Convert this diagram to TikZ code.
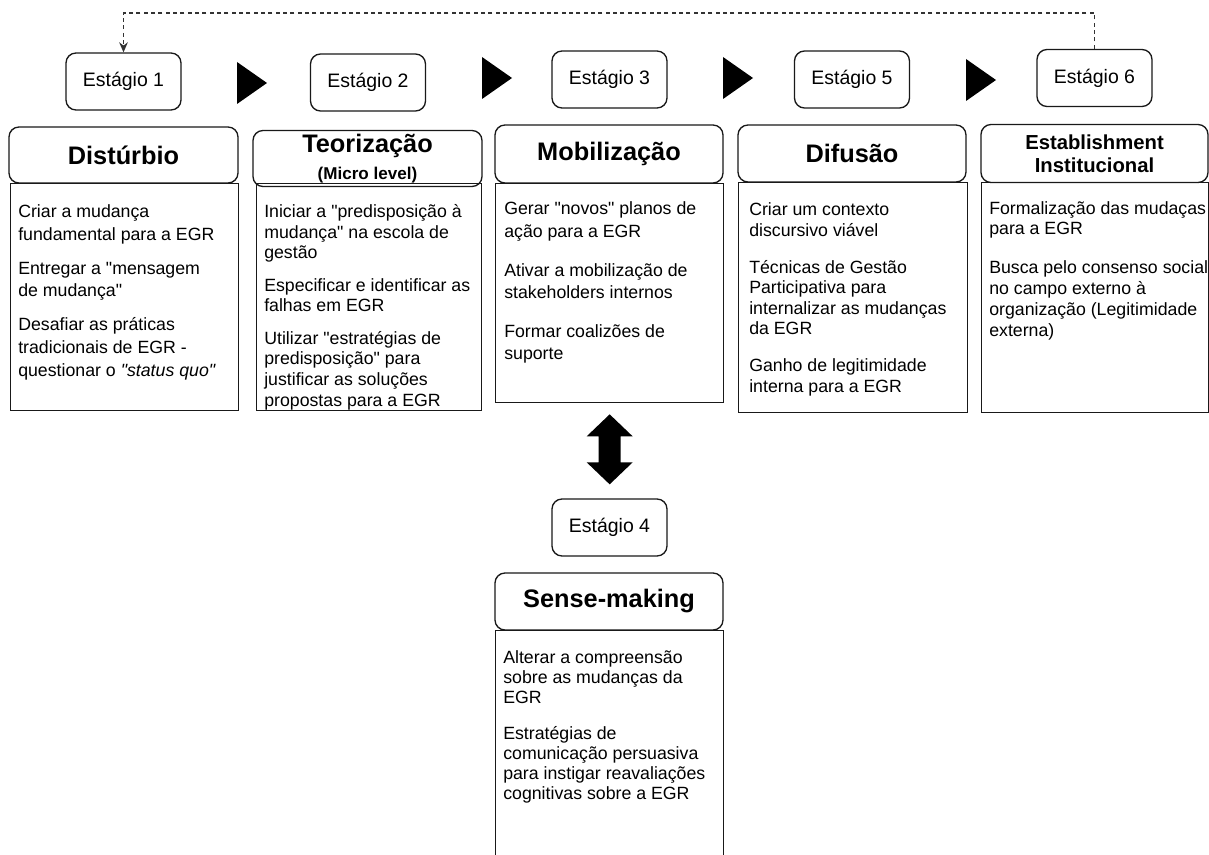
\documentclass[tikz,border=0pt]{standalone}
\usepackage{fontspec}
\setmainfont{Liberation Sans}
\usetikzlibrary{arrows.meta,calc}
\newcommand{\qq}{\textquotedbl}
\begin{document}
\begin{tikzpicture}[x=0.75pt,y=-0.75pt,
  stagebox/.style={draw=black!90, line width=1pt, rounded corners=7.5pt, fill=white,
    minimum width=115*0.75pt, minimum height=57*0.75pt, inner sep=0pt,
    font=\fontsize{14.6}{17}\selectfont},
  titlebox/.style={draw=black!90, line width=1pt, rounded corners=7.5pt, inner sep=0pt,
    align=center, font=\fontsize{19}{19}\selectfont\bfseries},
  bodybox/.style={draw=black!90, line width=1pt, inner sep=0pt, anchor=north west},
  bodytxt/.style={anchor=base west, align=left, inner sep=0pt,
    font=\fontsize{13.3}{#1}\selectfont},
  flowtri/.style={fill=black},
  feedback/.style={draw=black!80, line width=0.9pt, dash pattern=on 3pt off 2.5pt,
    -{Stealth[length=7.5pt,width=6.5pt]}},
]
\useasboundingbox (0,0) rectangle (1209,855);
\clip (0,0) rectangle (1209,855);

% body boxes
\node[bodybox, minimum width=228*0.75pt, minimum height=227*0.75pt] (b1) at (10,183) {};
\node[bodybox, minimum width=225*0.75pt, minimum height=227*0.75pt] (b2) at (256,183) {};
\node[bodybox, minimum width=228*0.75pt, minimum height=219*0.75pt] (b3) at (495,183) {};
\node[bodybox, minimum width=229*0.75pt, minimum height=230*0.75pt] (b5) at (738,182) {};
\node[bodybox, minimum width=227*0.75pt, minimum height=230*0.75pt] (b6) at (981,182) {};
\node[bodybox, minimum width=228*0.75pt, minimum height=240*0.75pt] (b4) at (495,630) {};

% title boxes
\node[titlebox, minimum width=229*0.75pt, minimum height=56*0.75pt] (h1) at (123.5,155) {Distúrbio};
\node[titlebox, minimum width=229*0.75pt, minimum height=56*0.75pt,
  font=\fontsize{19}{20.5}\selectfont\bfseries] (h2) at (367.5,158.5)
  {Teorização\\{\fontsize{12.8}{14}\selectfont(Micro level)}};
\node[titlebox, minimum width=228*0.75pt, minimum height=58*0.75pt] (h3) at (609,154) {Mobilização};
\node[titlebox, minimum width=228*0.75pt, minimum height=57*0.75pt] (h5) at (852,153.5) {Difusão};
\node[titlebox, minimum width=227*0.75pt, minimum height=58*0.75pt,
  font=\fontsize{15.2}{17.25}\selectfont\bfseries] (h6) at (1094.5,153.5) {Establishment\\Institucional};
\node[titlebox, minimum width=228*0.75pt, minimum height=57*0.75pt] (h4) at (609,601.5) {Sense-making};

% stage boxes
\node[stagebox] (s1) at (123.5,81.5) {Estágio 1};
\node[stagebox] (s2) at (368,82.5) {Estágio 2};
\node[stagebox] (s3) at (609.5,79.5) {Estágio 3};
\node[stagebox] (s5) at (852,79.5) {Estágio 5};
\node[stagebox] (s6) at (1094.5,78) {Estágio 6};
\node[stagebox] (s4) at (609.5,527.5) {Estágio 4};

% flow triangles
\fill[flowtri] (237,62) -- (267,83) -- (237,104) -- cycle;
\fill[flowtri] (482,57) -- (512,78) -- (482,99) -- cycle;
\fill[flowtri] (723,57) -- (753,78) -- (723,99) -- cycle;
\fill[flowtri] (966,59) -- (996,80) -- (966,101) -- cycle;

% double arrow between Mobilizacao and Estagio 4
\coordinate (da) at ($(b3.south)+(0,11)$);
\begin{scope}[shift={(da)}]
\fill (0,0) -- (23,22) -- (11,22) -- (11,48) -- (23,48) -- (0,70) -- (-23,48) -- (-11,48) -- (-11,22) -- (-23,22) -- cycle;
\end{scope}

% feedback dashed connector
\coordinate (topline) at (0,13);
\draw[feedback] (s6.north) -- (s6.north |- topline) -| (s1.north);

% body texts (anchored at the baseline of the last line)
\node[bodytxt=16.9pt] (x1) at ($(b1.north west)+(8,193)$)
  {Criar a mudança\\fundamental para a EGR\\[8.6pt]Entregar a \qq mensagem\\de mudança\qq\\[8.6pt]Desafiar as práticas\\tradicionais de EGR -\\questionar o \textit{\qq status quo\qq}};
\node[bodytxt=15.4pt] (x2) at ($(b2.north west)+(8,223)$)
  {Iniciar a \qq predisposição à\\mudança\qq{} na escola de\\gestão\\[9pt]Especificar e identificar as\\falhas em EGR\\[9pt]Utilizar \qq estratégias de\\predisposição\qq{} para\\justificar as soluções\\propostas para a EGR};
\node[bodytxt=16.5pt] (x3) at ($(b3.north west)+(9,176)$)
  {Gerar \qq novos\qq{} planos de\\ação para a EGR\\[12.75pt]Ativar a mobilização de\\stakeholders internos\\[12.75pt]Formar coalizões de\\suporte};
\node[bodytxt=15.4pt] (x5) at ($(b5.north west)+(11,210.5)$)
  {Criar um contexto\\discursivo viável\\[12.4pt]Técnicas de Gestão\\Participativa para\\internalizar as mudanças\\da EGR\\[12.4pt]Ganho de legitimidade\\interna para a EGR};
\node[bodytxt=15.75pt] (x6) at ($(b6.north west)+(8,154)$)
  {Formalização das mudaças\\para a EGR\\[12.75pt]Busca pelo consenso social\\no campo externo à\\organização (Legitimidade\\externa)};
\node[bodytxt=15pt] (x4) at ($(b4.north west)+(8,169)$)
  {Alterar a compreensão\\sobre as mudanças da\\EGR\\[12pt]Estratégias de\\comunicação persuasiva\\para instigar reavaliações\\cognitivas sobre a EGR};
\end{tikzpicture}
\end{document}
